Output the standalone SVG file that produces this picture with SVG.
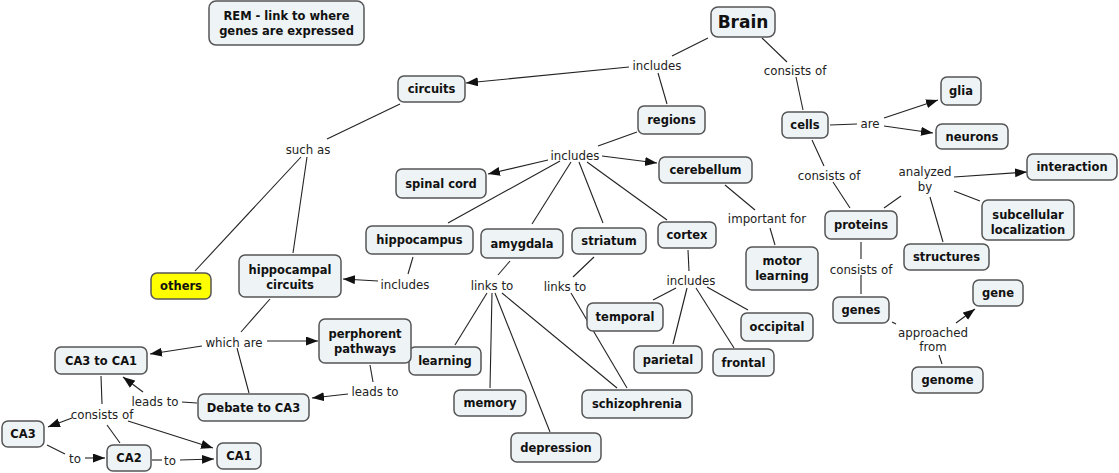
<svg xmlns="http://www.w3.org/2000/svg" width="1119" height="473" viewBox="0 0 1119 473">
<defs>
<marker id="arr" markerWidth="13" markerHeight="10" refX="12" refY="4.5" orient="auto" markerUnits="userSpaceOnUse"><path d="M0,0 L12,4.5 L0,9 z" fill="#111"/></marker>
<style>
.n rect{fill:#eef3f6;stroke:#555;stroke-width:1.5}
.n text{font-family:"DejaVu Sans","Verdana",sans-serif;font-weight:bold;font-size:11.5px;fill:#111;text-anchor:middle}
.l{font-family:"DejaVu Sans","Verdana",sans-serif;font-size:11.8px;fill:#222;text-anchor:middle}
#connectors line{stroke:#222;stroke-width:1.1}
#connectors line.a{marker-end:url(#arr)}
</style>
</defs>
<rect width="1119" height="473" fill="#fff"/>
<g id="connectors">
<line x1="708" y1="38" x2="672" y2="56"/>
<line class="a" x1="629" y1="67" x2="466" y2="83"/>
<line x1="658" y1="73" x2="667" y2="104"/>
<line x1="637" y1="132" x2="598" y2="146"/>
<line class="a" x1="548" y1="160" x2="488" y2="174"/>
<line class="a" x1="602" y1="156" x2="657" y2="163"/>
<line x1="560" y1="161" x2="448" y2="223"/>
<line x1="571" y1="162" x2="532" y2="224"/>
<line x1="579" y1="162" x2="603" y2="223"/>
<line x1="587" y1="162" x2="667" y2="220"/>
<line x1="725" y1="185" x2="755" y2="210"/>
<line x1="770" y1="228" x2="775" y2="245"/>
<line x1="762" y1="38" x2="787" y2="62"/>
<line x1="796" y1="77" x2="803" y2="110"/>
<line x1="830" y1="125" x2="857" y2="124"/>
<line class="a" x1="884" y1="118" x2="938" y2="100"/>
<line class="a" x1="884" y1="126" x2="933" y2="133"/>
<line x1="812" y1="140" x2="824" y2="166"/>
<line x1="833" y1="182" x2="850" y2="208"/>
<line x1="884" y1="208" x2="901" y2="196"/>
<line class="a" x1="954" y1="177" x2="1027" y2="172"/>
<line x1="954" y1="191" x2="980" y2="201"/>
<line x1="930" y1="197" x2="943" y2="242"/>
<line x1="861" y1="242" x2="861" y2="259"/>
<line x1="861" y1="275" x2="861" y2="294"/>
<line x1="892" y1="322" x2="896" y2="324"/>
<line class="a" x1="956" y1="323" x2="975" y2="309"/>
<line x1="942" y1="364" x2="939" y2="355"/>
<line x1="688" y1="250" x2="689" y2="271"/>
<line x1="676" y1="288" x2="653" y2="300"/>
<line x1="687" y1="288" x2="673" y2="344"/>
<line x1="696" y1="288" x2="734" y2="348"/>
<line x1="707" y1="287" x2="748" y2="310"/>
<line x1="594" y1="257" x2="573" y2="277"/>
<line x1="571" y1="293" x2="627" y2="388"/>
<line x1="510" y1="261" x2="498" y2="275"/>
<line x1="487" y1="293" x2="455" y2="345"/>
<line x1="492" y1="293" x2="490" y2="388"/>
<line x1="495" y1="293" x2="550" y2="432"/>
<line x1="502" y1="293" x2="617" y2="388"/>
<line x1="413" y1="257" x2="408" y2="274"/>
<line class="a" x1="378" y1="281" x2="343" y2="279"/>
<line x1="400" y1="104" x2="327" y2="139"/>
<line x1="301" y1="157" x2="195" y2="271"/>
<line x1="307" y1="157" x2="293" y2="253"/>
<line x1="270" y1="299" x2="241" y2="332"/>
<line class="a" x1="202" y1="346" x2="150" y2="354"/>
<line class="a" x1="267" y1="341" x2="318" y2="341"/>
<line x1="237" y1="348" x2="249" y2="393"/>
<line x1="370" y1="365" x2="373" y2="382"/>
<line class="a" x1="348" y1="394" x2="312" y2="398"/>
<line x1="197" y1="403" x2="182" y2="402"/>
<line class="a" x1="143" y1="392" x2="123" y2="377"/>
<line x1="101" y1="376" x2="102" y2="404"/>
<line class="a" x1="72" y1="418" x2="48" y2="427"/>
<line x1="107" y1="425" x2="120" y2="443"/>
<line class="a" x1="128" y1="421" x2="213" y2="448"/>
<line x1="47" y1="445" x2="65" y2="454"/>
<line class="a" x1="85" y1="458" x2="105" y2="458"/>
<line x1="152" y1="460" x2="162" y2="460"/>
<line class="a" x1="180" y1="460" x2="214" y2="459"/>
</g>
<g id="labels">
<text class="l" x="657" y="70">includes</text>
<text class="l" x="795" y="75">consists of</text>
<text class="l" x="870" y="128">are</text>
<text class="l" x="829" y="180">consists of</text>
<text class="l" x="925" y="176">analyzed</text>
<text class="l" x="925" y="191">by</text>
<text class="l" x="767" y="223">important for</text>
<text class="l" x="861" y="274">consists of</text>
<text class="l" x="933" y="337">approached</text>
<text class="l" x="933" y="351">from</text>
<text class="l" x="575" y="160">includes</text>
<text class="l" x="691" y="285">includes</text>
<text class="l" x="492" y="290">links to</text>
<text class="l" x="565" y="291">links to</text>
<text class="l" x="405" y="289">includes</text>
<text class="l" x="308" y="154">such as</text>
<text class="l" x="234" y="347">which are</text>
<text class="l" x="155" y="406">leads to</text>
<text class="l" x="102" y="419">consists of</text>
<text class="l" x="75" y="463">to</text>
<text class="l" x="170" y="465">to</text>
<text class="l" x="375" y="396">leads to</text>
</g>
<g id="rem" class="n"><rect x="209" y="1" width="155" height="44" rx="7"/><text x="286.5" y="20">REM - link to where</text><text x="286.5" y="35">genes are expressed</text></g>
<g id="brain" class="n"><rect x="711" y="7" width="64" height="30" rx="7"/><text x="743" y="28" style="font-size:17px">Brain</text></g>
<g id="circuits" class="n"><rect x="398" y="76" width="67" height="26" rx="6"/><text x="431.5" y="93">circuits</text></g>
<g id="regions" class="n"><rect x="638" y="106" width="67" height="28" rx="6"/><text x="671.5" y="124">regions</text></g>
<g id="spinal-cord" class="n"><rect x="396" y="169" width="90" height="29" rx="6"/><text x="441" y="187.5">spinal cord</text></g>
<g id="cerebellum" class="n"><rect x="659" y="157" width="93" height="26" rx="6"/><text x="705.5" y="174">cerebellum</text></g>
<g id="cells" class="n"><rect x="782" y="112" width="46" height="26" rx="6"/><text x="805" y="129">cells</text></g>
<g id="glia" class="n"><rect x="941" y="77" width="40" height="28" rx="6"/><text x="961" y="95">glia</text></g>
<g id="neurons" class="n"><rect x="936" y="124" width="72" height="25" rx="6"/><text x="972" y="140.5">neurons</text></g>
<g id="interaction" class="n"><rect x="1027" y="154" width="90" height="26" rx="6"/><text x="1072" y="171">interaction</text></g>
<g id="subcellular" class="n"><rect x="982" y="200" width="92" height="40" rx="6"/><text x="1028" y="219">subcellular</text><text x="1028" y="234">localization</text></g>
<g id="proteins" class="n"><rect x="825" y="211" width="72" height="28" rx="6"/><text x="861" y="229">proteins</text></g>
<g id="structures" class="n"><rect x="904" y="244" width="85" height="26" rx="6"/><text x="946.5" y="261">structures</text></g>
<g id="motor-learning" class="n"><rect x="746" y="247" width="72" height="43" rx="6"/><text x="782" y="265">motor</text><text x="782" y="280">learning</text></g>
<g id="genes" class="n"><rect x="833" y="297" width="56" height="26" rx="6"/><text x="861" y="314">genes</text></g>
<g id="gene" class="n"><rect x="973" y="280" width="50" height="26" rx="6"/><text x="998" y="297">gene</text></g>
<g id="genome" class="n"><rect x="912" y="367" width="71" height="26" rx="6"/><text x="947.5" y="384">genome</text></g>
<g id="occipital" class="n"><rect x="741" y="313" width="72" height="28" rx="6"/><text x="777" y="331">occipital</text></g>
<g id="frontal" class="n"><rect x="713" y="349" width="61" height="27" rx="6"/><text x="743.5" y="366.5">frontal</text></g>
<g id="parietal" class="n"><rect x="634" y="346" width="68" height="27" rx="6"/><text x="668" y="363.5">parietal</text></g>
<g id="temporal" class="n"><rect x="587" y="303" width="76" height="28" rx="6"/><text x="625" y="321">temporal</text></g>
<g id="schizophrenia" class="n"><rect x="582" y="390" width="110" height="28" rx="6"/><text x="637" y="408">schizophrenia</text></g>
<g id="depression" class="n"><rect x="511" y="433" width="90" height="29" rx="6"/><text x="556" y="451.5">depression</text></g>
<g id="memory" class="n"><rect x="454" y="390" width="72" height="26" rx="6"/><text x="490" y="407">memory</text></g>
<g id="learning" class="n"><rect x="409" y="347" width="72" height="28" rx="6"/><text x="445" y="365">learning</text></g>
<g id="cortex" class="n"><rect x="658" y="222" width="58" height="26" rx="6"/><text x="687" y="239">cortex</text></g>
<g id="striatum" class="n"><rect x="572" y="228" width="74" height="26" rx="6"/><text x="609" y="245">striatum</text></g>
<g id="amygdala" class="n"><rect x="481" y="229" width="82" height="29" rx="6"/><text x="522" y="247.5">amygdala</text></g>
<g id="hippocampus" class="n"><rect x="366" y="226" width="107" height="28" rx="6"/><text x="419.5" y="244">hippocampus</text></g>
<g id="others" class="n"><rect x="151" y="273" width="60" height="26" rx="6" style="fill:#ffff00"/><text x="181" y="290">others</text></g>
<g id="hippocampal-circuits" class="n"><rect x="239" y="255" width="102" height="42" rx="6"/><text x="290" y="274">hippocampal</text><text x="290" y="289">circuits</text></g>
<g id="perphorent" class="n"><rect x="319" y="319" width="92" height="44" rx="6"/><text x="365" y="338">perphorent</text><text x="365" y="353">pathways</text></g>
<g id="ca3-ca1" class="n"><rect x="55" y="347" width="92" height="27" rx="6"/><text x="101" y="364.5">CA3 to CA1</text></g>
<g id="debate" class="n"><rect x="198" y="394" width="111" height="27" rx="6"/><text x="253.5" y="411.5">Debate to CA3</text></g>
<g id="ca3" class="n"><rect x="2" y="421" width="42" height="26" rx="6"/><text x="23" y="438">CA3</text></g>
<g id="ca2" class="n"><rect x="107" y="445" width="44" height="26" rx="6"/><text x="129" y="462">CA2</text></g>
<g id="ca1" class="n"><rect x="217" y="443" width="44" height="26" rx="6"/><text x="239" y="460">CA1</text></g>
</svg>
